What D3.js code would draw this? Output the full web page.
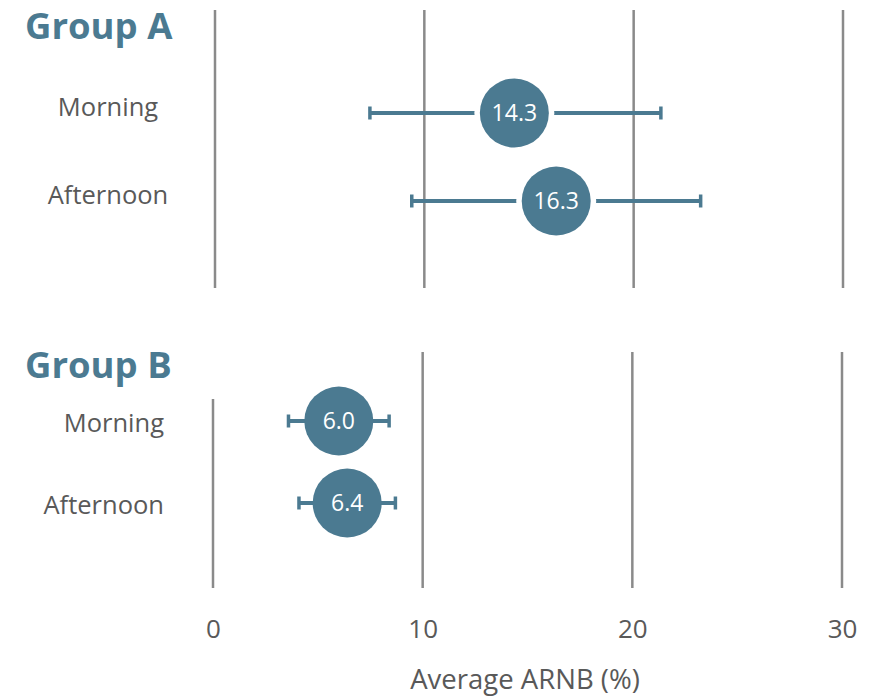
<!DOCTYPE html>
<html lang="en">
<head>
    <meta charset="UTF-8">
    <title>Average ARNB by group</title>
    <script src="https://d3js.org/d3.v7.min.js"></script>
    <style>
        body { margin: 0; background: #fff; }
        svg text { font-family: "Open Sans", sans-serif; }
    </style>
</head>
<body>
    <svg width="877" height="700"></svg>
    <script>
        // values
        const groups = ['Group A', 'Group B'];
        const periods = ['Morning', 'Afternoon'];
        const meanA = [14.3, 16.3];
        const lowA = [7.4, 9.4];
        const highA = [21.3, 23.2];
        const meanB = [6.0, 6.4];
        const lowB = [3.6, 4.1];
        const highB = [8.4, 8.7];
        const tickValues = [0, 10, 20, 30];
        const axisTitle = 'Average ARNB (%)';

        const blue = '#4b7a91';
        const grey = '#595959';
        const gridColor = '#8a8a8a';

        const svg = d3.select('svg');

        // layout of the two panels
        const panels = [
            { name: groups[0], mean: meanA, low: lowA, high: highA,
              xRange: [215, 843], rows: [113, 201], gridTop: 10, zeroTop: 10, gridBottom: 288,
              titleY: 39, labelX: 108, labelAnchor: 'middle', labelDy: 3, halo: 40 },
            { name: groups[1], mean: meanB, low: lowB, high: highB,
              xRange: [213, 842], rows: [421, 503], gridTop: 352, zeroTop: 399, gridBottom: 588,
              titleY: 378, labelX: 164, labelAnchor: 'end', labelDy: 11, halo: 0 }
        ];

        panels.forEach(p => {
            const x = d3.scaleLinear().domain([0, 30]).range(p.xRange);
            const y = d3.scalePoint().domain(periods).range(p.rows);
            const g = svg.append('g');

            // vertical gridlines
            g.selectAll('line.grid')
                .data(tickValues)
                .enter()
                .append('line')
                .attr('class', 'grid')
                .attr('x1', d => x(d))
                .attr('x2', d => x(d))
                .attr('y1', d => d === 0 ? p.zeroTop : p.gridTop)
                .attr('y2', p.gridBottom)
                .attr('stroke', gridColor)
                .attr('stroke-width', 2.5);

            // group title
            g.append('text')
                .attr('x', 25)
                .attr('y', p.titleY)
                .attr('fill', blue)
                .attr('font-size', 36.5)
                .attr('font-weight', 700)
                .text(p.name);

            // row labels
            g.selectAll('text.row')
                .data(periods)
                .enter()
                .append('text')
                .attr('class', 'row')
                .attr('x', p.labelX)
                .attr('y', d => y(d) + p.labelDy)
                .attr('text-anchor', p.labelAnchor)
                .attr('fill', grey)
                .attr('font-size', 25.5)
                .text(d => d);

            const rows = periods.map((d, i) => ({ period: d, mean: p.mean[i], low: p.low[i], high: p.high[i] }));

            // error bars
            g.selectAll('line.err')
                .data(rows)
                .enter()
                .append('line')
                .attr('class', 'err')
                .attr('x1', d => x(d.low))
                .attr('x2', d => x(d.high))
                .attr('y1', d => y(d.period))
                .attr('y2', d => y(d.period))
                .attr('stroke', blue)
                .attr('stroke-width', 4);

            ['low', 'high'].forEach(k => {
                g.selectAll('line.cap-' + k)
                    .data(rows)
                    .enter()
                    .append('line')
                    .attr('class', 'cap-' + k)
                    .attr('x1', d => x(d[k]))
                    .attr('x2', d => x(d[k]))
                    .attr('y1', d => y(d.period) - 6.5)
                    .attr('y2', d => y(d.period) + 6.5)
                    .attr('stroke', blue)
                    .attr('stroke-width', 3.5);
            });

            // white halo (only group A has a visible gap) then the dot
            if (p.halo > 0) {
                g.selectAll('circle.halo')
                    .data(rows)
                    .enter()
                    .append('circle')
                    .attr('class', 'halo')
                    .attr('cx', d => x(d.mean))
                    .attr('cy', d => y(d.period))
                    .attr('r', p.halo)
                    .attr('fill', '#fff');
            }

            g.selectAll('circle.dot')
                .data(rows)
                .enter()
                .append('circle')
                .attr('class', 'dot')
                .attr('cx', d => x(d.mean))
                .attr('cy', d => y(d.period))
                .attr('r', 34.5)
                .attr('fill', blue);

            g.selectAll('text.val')
                .data(rows)
                .enter()
                .append('text')
                .attr('class', 'val')
                .attr('x', d => x(d.mean))
                .attr('y', d => y(d.period))
                .attr('dy', '0.35em')
                .attr('text-anchor', 'middle')
                .attr('fill', '#fff')
                .attr('font-size', 23)
                .text(d => d.mean.toFixed(1));
        });

        // bottom axis (tick labels only)
        const xAxisScale = d3.scaleLinear().domain([0, 30]).range(panels[1].xRange);
        const axis = svg.append('g')
            .attr('transform', 'translate(0,600)')
            .call(d3.axisBottom(xAxisScale).tickValues(tickValues).tickSize(0).tickPadding(20));
        axis.select('.domain').remove();
        axis.selectAll('text')
            .attr('font-size', 26)
            .attr('font-family', '"Open Sans", sans-serif')
            .attr('fill', grey);

        svg.append('text')
            .attr('x', 525)
            .attr('y', 689)
            .attr('text-anchor', 'middle')
            .attr('fill', grey)
            .attr('font-size', 27.5)
            .text(axisTitle);
    </script>
</body>
</html>
